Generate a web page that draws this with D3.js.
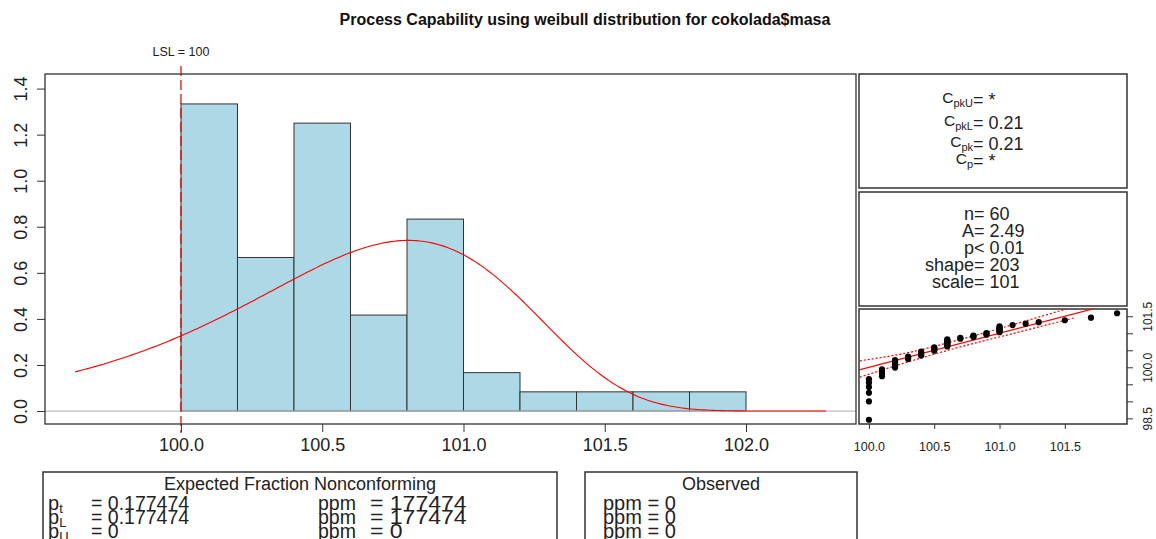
<!DOCTYPE html>
<html>
<head>
<meta charset="utf-8">
<script src="https://cdn.jsdelivr.net/npm/d3@7"></script>
<style>
  html, body { margin: 0; padding: 0; background: #fff; }
  svg { display: block; font-family: "Liberation Sans", Arial, Helvetica, sans-serif; }
</style>
</head>
<body>
<svg id="chart" width="1156" height="539"></svg>
<script>
// ---- data -------------------------------------------------------------
const chartTitle = "Process Capability using weibull distribution for cokolada$masa";

// cokolada$masa: distinct measured values and how often each occurs
const massValues = [100.0, 100.1, 100.2, 100.3, 100.4, 100.5, 100.6, 100.7, 100.8,
                    100.9, 101.0, 101.1, 101.2, 101.3, 101.5, 101.7, 101.9];
const massCounts = [6, 4, 6, 3, 5, 5, 10, 2, 3, 3, 7, 1, 1, 1, 1, 1, 1];

// histogram breaks (right-closed bins, first bin includes its lower edge)
const binBreaks = [100.0, 100.2, 100.4, 100.6, 100.8, 101.0, 101.2, 101.4, 101.6, 101.8, 102.0];

// specification limit and fitted Weibull parameters
const lsl = 100;
const weibullShape = 203.0;
const weibullScale = 100.807;
const andersonA = "2.49";
const pValueText = "0.01";

// x range over which the density is drawn, and the y limit of the histogram
const densityRange = [99.625, 102.283];
const yLimit = [0, 1.407];

const xTicks = [100.0, 100.5, 101.0, 101.5, 102.0];
const yTicks = [0.0, 0.2, 0.4, 0.6, 0.8, 1.0, 1.2, 1.4];

// capability indices
const indexSubs = ["pkU", "pkL", "pk", "p"];
const indexValues = ["*", "0.21", "0.21", "*"];

// Q-Q plot: reference line (y = a + b x) and pointwise confidence band
const qqLineIntercept = 0;
const qqLineSlope = 1;
const qqUpperX = [99.93, 100.3, 100.7, 101.1, 101.55];
const qqUpperY = [100.19, 100.43, 100.82, 101.25, 101.76];
const qqLowerX = [99.93, 100.3, 100.7, 101.1, 101.57];
const qqLowerY = [99.71, 100.16, 100.60, 100.99, 101.45];
const qqXTicks = [100.0, 100.5, 101.0, 101.5];
const qqYTicks = [98.5, 99.0, 99.5, 100.0, 100.5, 101.0, 101.5];

// expected / observed fraction nonconforming
const expSubs = ["t", "L", "U"];
const expFraction = ["0.177474", "0.177474", "0"];
const expPpm = ["177474", "177474", "0"];
const obsPpm = ["0", "0", "0"];

// ---- helpers -------------------------------------------------------------
const svg = d3.select("#chart");
const INK = "#222";
const FRAME = "#333";
const pad4 = ([a, b]) => { const r = b - a; return [a - 0.04 * r, b + 0.04 * r]; };
const weibullPdf = v => {
  const k = weibullShape, l = weibullScale, z = Math.pow(v / l, k);
  return (k / v) * z * Math.exp(-z);
};
const weibullQuantile = p => weibullScale * Math.pow(-Math.log(1 - p), 1 / weibullShape);

// expand the counts into the sorted sample
const sample = [];
massValues.forEach((v, i) => { for (let j = 0; j < massCounts[i]; j++) sample.push(v); });
const n = sample.length;

// ---- title -------------------------------------------------------------
svg.append("text")
  .attr("x", 585).attr("y", 25)
  .attr("text-anchor", "middle")
  .attr("font-weight", "bold").attr("font-size", 16)
  .attr("fill", "#111")
  .text(chartTitle);

// ---- histogram panel ---------------------------------------------------
const M = { left: 45, right: 856, top: 74, bottom: 424 };
const x = d3.scaleLinear().domain(pad4(densityRange)).range([M.left, M.right]);
const y = d3.scaleLinear().domain(pad4(yLimit)).range([M.bottom, M.top]);

const binWidth = binBreaks[1] - binBreaks[0];
const bins = binBreaks.slice(0, -1).map((b, i) => ({ x0: b, x1: binBreaks[i + 1], count: 0 }));
massValues.forEach((v, i) => {
  const k = binBreaks.findIndex((b, j) => j > 0 && v <= b + 1e-9) - 1;
  bins[Math.max(0, k)].count += massCounts[i];
});
bins.forEach(b => { b.density = b.count / (n * binWidth); });

const hist = svg.append("g");
hist.selectAll("rect.bar")
  .data(bins)
  .join("rect")
  .attr("class", "bar")
  .attr("x", d => x(d.x0))
  .attr("y", d => y(d.density))
  .attr("width", d => x(d.x1) - x(d.x0))
  .attr("height", d => y(0) - y(d.density))
  .attr("fill", "#add8e6")
  .attr("stroke", FRAME)
  .attr("stroke-width", 1);

// horizontal reference at zero
svg.append("line")
  .attr("x1", M.left).attr("x2", M.right)
  .attr("y1", y(0)).attr("y2", y(0))
  .attr("stroke", "#bebebe").attr("stroke-width", 1.2);

// fitted Weibull density
const curveX = d3.range(241).map(i => densityRange[0] + i * (densityRange[1] - densityRange[0]) / 240);
svg.append("path")
  .datum(curveX)
  .attr("fill", "none")
  .attr("stroke", "#ff0000")
  .attr("stroke-width", 1.1)
  .attr("d", d3.line().x(d => x(d)).y(d => y(weibullPdf(d))));

// lower specification limit
svg.append("line")
  .attr("x1", x(lsl)).attr("x2", x(lsl))
  .attr("y1", 66).attr("y2", 433)
  .attr("stroke", "#e00000").attr("stroke-width", 1.2)
  .attr("stroke-dasharray", "10,4");
svg.append("text")
  .attr("x", x(lsl)).attr("y", 56)
  .attr("text-anchor", "middle").attr("font-size", 12.5).attr("fill", INK)
  .text(`LSL = ${lsl}`);

// axes
const xAxis = svg.append("g")
  .attr("transform", `translate(0,${M.bottom})`)
  .call(d3.axisBottom(x).tickValues(xTicks).tickFormat(d3.format(".1f")).tickSize(8));
xAxis.select(".domain").remove();
xAxis.selectAll(".tick line").attr("stroke", FRAME);
xAxis.selectAll(".tick text")
  .attr("y", 27).attr("dy", 0)
  .attr("font-size", 18).attr("font-family", null).attr("fill", INK);

const yAxis = svg.append("g")
  .attr("transform", `translate(${M.left},0)`)
  .call(d3.axisLeft(y).tickValues(yTicks).tickFormat(d3.format(".1f")).tickSize(8));
yAxis.select(".domain").remove();
yAxis.selectAll(".tick line").attr("stroke", FRAME);
yAxis.selectAll(".tick text")
  .attr("x", 0).attr("y", 0).attr("dy", 0)
  .attr("transform", "translate(-18,0) rotate(-90)")
  .attr("text-anchor", "middle")
  .attr("font-size", 18).attr("font-family", null).attr("fill", INK);

svg.append("rect")
  .attr("x", M.left).attr("y", M.top)
  .attr("width", M.right - M.left).attr("height", M.bottom - M.top)
  .attr("fill", "none").attr("stroke", FRAME).attr("stroke-width", 1.3);

// ---- side panels -------------------------------------------------------
const P = { left: 859, right: 1127 };
const panelA = { top: 74, bottom: 188 };
const panelB = { top: 192, bottom: 306 };
const panelC = { top: 309, bottom: 424 };
[panelA, panelB, panelC].forEach(p => {
  svg.append("rect")
    .attr("x", P.left).attr("y", p.top)
    .attr("width", P.right - P.left).attr("height", p.bottom - p.top)
    .attr("fill", "none").attr("stroke", FRAME).attr("stroke-width", 1.5);
});

// capability indices
const eqX = 973;
const indexBaselines = [103, 126, 147, 164];
indexSubs.forEach((sub, i) => {
  const b = indexBaselines[i];
  const t = svg.append("text")
    .attr("x", eqX).attr("y", b)
    .attr("text-anchor", "end").attr("fill", INK);
  t.append("tspan").attr("font-size", 15.5).text("C");
  t.append("tspan").attr("font-size", 11).attr("dy", 4).text(sub);
  svg.append("text")
    .attr("x", eqX).attr("y", b + 3)
    .attr("font-size", 18).attr("fill", INK)
    .text(`= ${indexValues[i]}`);
});

// goodness of fit and parameters
const sig3 = d3.format(".3r");
const fitRows = [
  ["n", "=", String(n)],
  ["A", "=", andersonA],
  ["p", "<", pValueText],
  ["shape", "=", sig3(weibullShape)],
  ["scale", "=", sig3(weibullScale)]
];
const fitBaselines = [220, 237, 254, 271, 288];
fitRows.forEach((r, i) => {
  svg.append("text")
    .attr("x", eqX + 1).attr("y", fitBaselines[i])
    .attr("text-anchor", "end").attr("font-size", 18).attr("fill", INK)
    .text(r[0]);
  svg.append("text")
    .attr("x", eqX + 1).attr("y", fitBaselines[i])
    .attr("font-size", 18).attr("fill", INK)
    .text(`${r[1]} ${r[2]}`);
});

// Q-Q plot of the sample against Weibull quantiles
const qqPoints = sample.map((v, i) => ({ x: v, q: weibullQuantile((i + 1 - 0.5) / n) }));
const qx = d3.scaleLinear().domain(pad4(d3.extent(qqPoints, d => d.x))).range([P.left, P.right]);
const qy = d3.scaleLinear().domain(pad4(d3.extent(qqPoints, d => d.q))).range([panelC.bottom, panelC.top]);

svg.append("clipPath").attr("id", "qq-clip")
  .append("rect")
  .attr("x", P.left).attr("y", panelC.top)
  .attr("width", P.right - P.left).attr("height", panelC.bottom - panelC.top);
const qq = svg.append("g").attr("clip-path", "url(#qq-clip)");

const qd = qx.domain();
qq.append("line")
  .attr("x1", qx(qd[0])).attr("y1", qy(qqLineIntercept + qqLineSlope * qd[0]))
  .attr("x2", qx(qd[1])).attr("y2", qy(qqLineIntercept + qqLineSlope * qd[1]))
  .attr("stroke", "#ff0000").attr("stroke-width", 1.2);

const bandLine = d3.line().x(d => qx(d[0])).y(d => qy(d[1])).curve(d3.curveMonotoneX);
[[qqUpperX, qqUpperY], [qqLowerX, qqLowerY]].forEach(([bx, by]) => {
  qq.append("path")
    .datum(bx.map((v, i) => [v, by[i]]))
    .attr("fill", "none")
    .attr("stroke", "#ff0000").attr("stroke-width", 1.2)
    .attr("stroke-dasharray", "2,2")
    .attr("d", bandLine);
});

qq.selectAll("circle")
  .data(qqPoints)
  .join("circle")
  .attr("cx", d => qx(d.x))
  .attr("cy", d => qy(d.q))
  .attr("r", 3.1)
  .attr("fill", "#000");

const qxAxis = svg.append("g")
  .attr("transform", `translate(0,${panelC.bottom})`)
  .call(d3.axisBottom(qx).tickValues(qqXTicks).tickFormat(d3.format(".1f")).tickSize(5));
qxAxis.select(".domain").remove();
qxAxis.selectAll(".tick line").attr("stroke", FRAME);
qxAxis.selectAll(".tick text")
  .attr("y", 27).attr("dy", 0)
  .attr("font-size", 12.5).attr("font-family", null).attr("fill", INK);

const qyAxis = svg.append("g")
  .attr("transform", `translate(${P.right},0)`)
  .call(d3.axisRight(qy).tickValues(qqYTicks)
    .tickFormat((d, i) => (i % 3 === 0 ? d3.format(".1f")(d) : ""))
    .tickSize(6));
qyAxis.select(".domain").remove();
qyAxis.selectAll(".tick line").attr("stroke", FRAME);
qyAxis.selectAll(".tick text")
  .attr("x", 0).attr("y", 0).attr("dy", 0)
  .attr("transform", "translate(25,0) rotate(-90)")
  .attr("text-anchor", "middle")
  .attr("font-size", 12).attr("font-family", null).attr("fill", INK);

// ---- fraction nonconforming boxes -----------------------------------------
const boxTop = 472;
svg.append("rect")
  .attr("x", 43).attr("y", boxTop).attr("width", 557 - 43).attr("height", 100)
  .attr("fill", "none").attr("stroke", FRAME).attr("stroke-width", 1.5);
svg.append("rect")
  .attr("x", 585).attr("y", boxTop).attr("width", 857 - 585).attr("height", 100)
  .attr("fill", "none").attr("stroke", FRAME).attr("stroke-width", 1.5);

svg.append("text")
  .attr("x", 300).attr("y", 490).attr("text-anchor", "middle")
  .attr("font-size", 18).attr("fill", INK)
  .text("Expected Fraction Nonconforming");
svg.append("text")
  .attr("x", 721).attr("y", 490).attr("text-anchor", "middle")
  .attr("font-size", 18).attr("fill", INK)
  .text("Observed");

const rowBaselines = [510, 524, 538];
expSubs.forEach((sub, i) => {
  const b = rowBaselines[i];
  const t = svg.append("text").attr("x", 48).attr("y", b).attr("fill", INK);
  t.append("tspan").attr("font-size", 20).text("p");
  t.append("tspan").attr("font-size", 13).attr("dy", 3).text(sub);
  svg.append("text").attr("x", 91).attr("y", b)
    .attr("font-size", 19.5).attr("fill", INK)
    .text(`= ${expFraction[i]}`);
  svg.append("text").attr("x", 318).attr("y", b)
    .attr("font-size", 19.5).attr("fill", INK)
    .text("ppm");
  // the ppm column is set a little wider than the fraction column
  svg.append("text")
    .attr("transform", `translate(370,${b}) scale(1.18,1)`)
    .attr("font-size", 19.5).attr("fill", INK)
    .text(`= ${expPpm[i]}`);
  svg.append("text").attr("x", 603).attr("y", b)
    .attr("font-size", 20).attr("fill", INK)
    .text(`ppm = ${obsPpm[i]}`);
});
</script>
</body>
</html>
